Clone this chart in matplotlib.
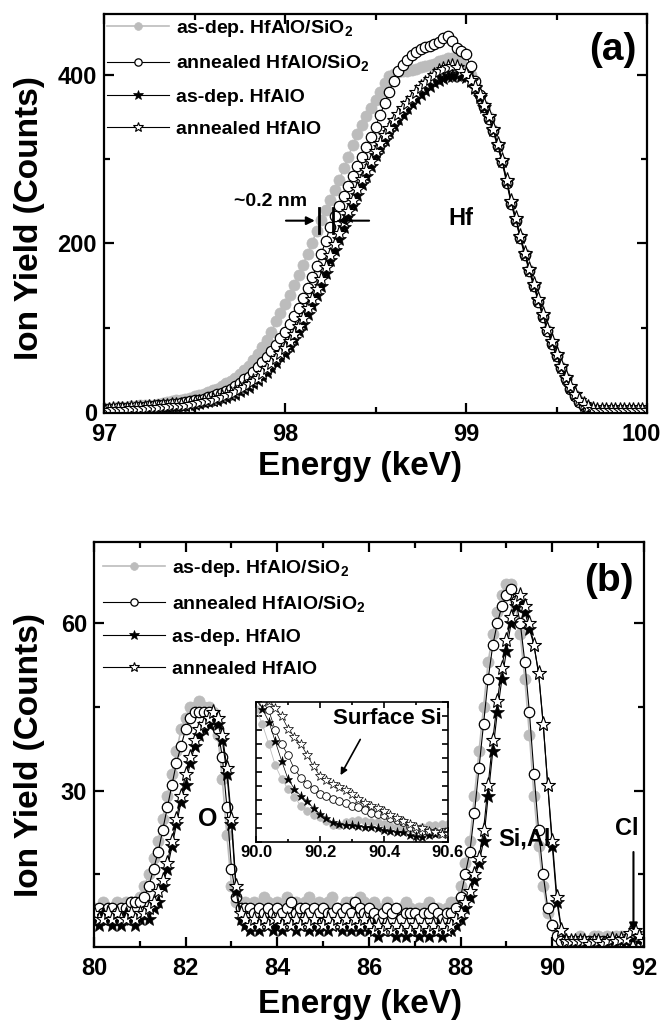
import numpy as np
import matplotlib
matplotlib.use('Agg')
import matplotlib.pyplot as plt
import matplotlib.transforms as mtransforms
from matplotlib.ticker import MultipleLocator, NullFormatter

plt.rcParams['font.family'] = ['Liberation Sans', 'DejaVu Sans']
plt.rcParams['font.weight'] = 'bold'
plt.rcParams['mathtext.fontset'] = 'custom'
plt.rcParams['mathtext.rm'] = 'Liberation Sans:bold'
plt.rcParams['mathtext.bf'] = 'Liberation Sans:bold'
plt.rcParams['mathtext.it'] = 'Liberation Sans:bold'
NARROW = ['Liberation Sans Narrow', 'DejaVu Sans Condensed', 'Liberation Sans', 'DejaVu Sans']

# ---------------- data ----------------
series_labels = ['as-dep. HfAlO/SiO$_2$', 'annealed HfAlO/SiO$_2$',
                 'as-dep. HfAlO', 'annealed HfAlO']

# panel (a): Hf signal, energy grid 97.0 .. 100.0 keV (step 0.025)
energy_a = np.round(97.0 + 0.025 * np.arange(121), 3)
hf_asdep_sio2 = [
    5, 5, 5, 6, 6, 6, 7, 7, 8, 8,
    9, 9, 10, 11, 12, 13, 14, 15, 16, 17,
    19, 20, 22, 24, 26, 28, 31, 34, 37, 41,
    45, 50, 55, 62, 69, 77, 85, 95, 108, 118,
    128, 139, 151, 163, 175, 188, 201, 215, 228, 240,
    251, 263, 275, 289, 303, 317, 330, 341, 351, 361,
    370, 380, 390, 398, 401, 403, 404, 405, 406, 407,
    409, 410, 411, 413, 416, 418, 420, 420, 418, 414,
    408, 400, 389, 376, 363, 350, 334, 316, 297, 273,
    248, 228, 207, 187, 168, 150, 132, 114, 97, 82,
    67, 53, 40, 29, 20, 13, 8, 5, 4, 3,
    3, 2, 2, 2, 2, 2, 2, 2, 2, 2,
    2]
hf_ann_sio2 = [
    4, 4, 4, 5, 5, 5, 5, 6, 6, 6,
    7, 7, 8, 8, 9, 10, 10, 11, 12, 13,
    14, 15, 16, 18, 19, 21, 23, 25, 28, 31,
    35, 39, 42, 48, 53, 59, 65, 72, 80, 88,
    95, 104, 114, 124, 135, 147, 160, 173, 187, 203,
    220, 232, 244, 256, 268, 280, 292, 303, 314, 326,
    338, 352, 366, 380, 393, 404, 412, 418, 423, 427,
    431, 433, 434, 436, 439, 443, 446, 440, 432, 428,
    424, 410, 392, 376, 362, 348, 333, 315, 296, 272,
    247, 227, 206, 186, 167, 149, 131, 113, 96, 81,
    66, 52, 39, 28, 19, 12, 7, 5, 3, 3,
    2, 2, 2, 2, 2, 2, 2, 2, 2, 2,
    2]
hf_asdep = [
    3, 3, 3, 3, 4, 4, 4, 4, 4, 5,
    5, 5, 6, 6, 6, 7, 7, 8, 8, 9,
    10, 11, 12, 13, 14, 15, 17, 18, 20, 22,
    25, 27, 30, 34, 38, 43, 48, 54, 60, 66,
    70, 78, 87, 96, 105, 116, 127, 139, 150, 165,
    180, 192, 205, 219, 232, 245, 258, 270, 280, 292,
    305, 314, 323, 332, 340, 347, 354, 361, 367, 372,
    377, 382, 387, 391, 394, 396, 398, 399, 400, 399,
    397, 392, 384, 374, 362, 350, 335, 317, 298, 274,
    249, 229, 208, 188, 169, 151, 133, 115, 98, 83,
    68, 54, 41, 30, 21, 14, 9, 6, 4, 3,
    3, 2, 2, 2, 2, 2, 2, 2, 1, 1,
    1]
hf_ann = [
    3, 3, 4, 4, 4, 4, 5, 5, 5, 5,
    6, 6, 6, 7, 7, 8, 8, 9, 9, 10,
    11, 12, 13, 14, 15, 17, 18, 20, 22, 24,
    27, 30, 33, 37, 41, 46, 52, 58, 64, 70,
    76, 84, 93, 102, 112, 123, 134, 146, 158, 172,
    186, 199, 212, 225, 238, 251, 264, 276, 287, 298,
    310, 319, 328, 337, 346, 353, 360, 367, 373, 379,
    385, 390, 395, 400, 404, 407, 409, 410, 409, 405,
    401, 394, 386, 376, 364, 351, 336, 318, 299, 275,
    250, 230, 209, 189, 170, 152, 134, 116, 99, 84,
    69, 55, 42, 31, 22, 15, 10, 6, 4, 3,
    3, 2, 2, 2, 2, 2, 2, 2, 2, 2,
    2]

# panel (b): O, Si/Al, Cl signals, energy grid 80.0 .. 92.0 keV (step 0.1)
energy_b = np.round(80.0 + 0.1 * np.arange(121), 2)
b_asdep_sio2 = [
    9, 9, 10, 9, 9, 10, 9, 10, 10, 10,
    11, 13, 15, 18, 21, 25, 29, 33, 37, 41,
    43, 45, 45, 46, 45, 45, 44, 40, 32, 22,
    13, 10, 9, 10, 9, 10, 9, 11, 10, 9,
    10, 9, 11, 9, 10, 9, 10, 11, 9, 10,
    9, 10, 11, 9, 9, 10, 10, 9, 11, 10,
    9, 10, 9, 8, 10, 9, 8, 9, 10, 9,
    8, 9, 9, 10, 8, 9, 8, 9, 10, 10,
    13, 17, 21, 29, 37, 45, 53, 58, 62, 65,
    67, 67, 63, 58, 50, 40, 29, 20, 13, 8,
    6, 5, 4, 3, 3, 3, 4, 3, 3, 4,
    4, 3, 4, 3, 4, 4, 3, 4, 4, 4,
    3]
b_ann_sio2 = [
    8, 9, 8, 9, 9, 8, 9, 9, 10, 10,
    10, 11, 13, 16, 19, 23, 27, 31, 35, 38,
    41, 43, 44, 44, 44, 44, 43, 41, 36, 27,
    16, 11, 9, 9, 9, 8, 9, 8, 9, 8,
    9, 8, 9, 10, 8, 9, 9, 8, 9, 8,
    9, 8, 8, 9, 8, 9, 8, 10, 9, 8,
    9, 8, 7, 8, 9, 8, 9, 7, 8, 8,
    8, 7, 8, 8, 9, 8, 7, 8, 8, 9,
    11, 15, 19, 26, 34, 42, 50, 56, 60, 63,
    65, 66, 64, 60, 53, 44, 33, 23, 15, 9,
    6, 4, 3, 3, 3, 3, 3, 3, 3, 3,
    3, 3, 3, 3, 3, 3, 3, 4, 4, 3,
    3]
b_asdep = [
    7, 6, 8, 7, 6, 7, 6, 8, 7, 6,
    7, 8, 7, 9, 10, 13, 16, 20, 24, 28,
    31, 35, 38, 40, 41, 42, 43, 42, 39, 33,
    24, 12, 7, 6, 5, 6, 5, 7, 6, 5,
    6, 5, 7, 6, 5, 6, 7, 5, 6, 5,
    6, 5, 6, 7, 5, 6, 5, 6, 5, 6,
    5, 6, 4, 5, 6, 5, 4, 5, 4, 5,
    5, 4, 5, 4, 5, 6, 4, 5, 5, 6,
    7, 9, 11, 14, 17, 21, 29, 37, 44, 50,
    55, 60, 63, 64, 62, 59, 56, 51, 42, 31,
    20, 10, 5, 3, 2.5, 2.5, 3, 2.5, 2, 2.5,
    2.5, 2, 2.5, 3, 2.5, 3, 3, 4, 4.5, 3.5,
    2.5]
b_ann = [
    8, 7, 7, 8, 7, 8, 7, 7, 8, 7,
    8, 8, 9, 10, 12, 14, 17, 21, 25, 29,
    33, 36, 39, 41, 42, 43, 44, 43, 40, 34,
    25, 13, 8, 7, 6, 7, 6, 7, 6, 7,
    7, 6, 7, 6, 7, 6, 7, 6, 7, 6,
    6, 7, 6, 7, 6, 7, 6, 7, 6, 7,
    6, 5, 6, 5, 6, 5, 6, 5, 6, 5,
    6, 5, 6, 5, 6, 5, 6, 5, 6, 7,
    8, 10, 12, 15, 18, 23, 31, 39, 46, 52,
    57, 61, 64, 65, 63, 60, 56, 51, 42, 31,
    21, 11, 5, 3, 3, 3, 3, 3, 2.5, 3,
    3, 2.5, 3, 3.5, 3, 3.5, 3.5, 4.5, 5, 4,
    3]

# inset: surface Si region, energy grid 90.00 .. 90.60 keV (step 0.02), arb. units
energy_in = np.round(90.0 + 0.02 * np.arange(31), 2)
in_asdep_sio2 = [95, 84, 70, 55, 45, 38, 32, 26, 22, 19, 18, 15, 12.5, 12, 14, 15,
                 15.5, 15, 14.5, 14, 13, 11.5, 10.5, 10, 9.5, 9.5, 11, 12, 12.5, 13, 13]
in_ann_sio2 = [104, 100, 94, 80, 70, 62, 52, 46, 41.7, 38, 34.5, 33, 31, 29.5, 28, 26,
               25, 23, 21, 20, 19, 17, 15.5, 14, 11, 9, 8, 7.5, 7, 7.5, 8]
in_asdep = [105, 95, 86, 72, 58, 45, 38, 33, 29, 24, 20, 17, 14, 13, 12.5, 12,
            11.5, 11, 10.7, 10, 8.5, 8, 7.5, 7, 5, 4, 3.6, 5, 6, 6.5, 7]
in_ann = [112, 107, 101, 96, 90, 81, 75, 70, 62, 54, 47, 44, 41.7, 39, 37, 34,
          31, 28, 26, 24, 22, 19, 17, 15, 13, 11, 10, 8, 7, 6, 6]

panel_a = [hf_asdep_sio2, hf_ann_sio2, hf_asdep, hf_ann]
panel_b = [b_asdep_sio2, b_ann_sio2, b_asdep, b_ann]
panel_in = [in_asdep_sio2, in_ann_sio2, in_asdep, in_ann]

# ---------------- styles ----------------
GRAY = '#bcbcbc'
styles = [
    dict(color=GRAY, marker='o', ms=8, mfc=GRAY, mec=GRAY, mew=0.5, lw=1.2),
    dict(color='black', marker='o', ms=7.5, mfc='white', mec='black', mew=0.9, lw=0.8),
    dict(color='black', marker='*', ms=10, mfc='black', mec='black', mew=0.5, lw=0.8),
    dict(color='black', marker='*', ms=11, mfc='white', mec='black', mew=0.8, lw=0.8),
]
inset_styles = [
    dict(color=GRAY, marker='o', ms=5.5, mfc=GRAY, mec=GRAY, mew=0.5, lw=0.6),
    dict(color='black', marker='o', ms=5.5, mfc='white', mec='black', mew=0.6, lw=0.5),
    dict(color='black', marker='*', ms=6.5, mfc='black', mec='black', mew=0.4, lw=0.5),
    dict(color='black', marker='*', ms=7, mfc='white', mec='black', mew=0.5, lw=0.5),
]

W, H = 664, 1029
fig = plt.figure(figsize=(W / 100, H / 100), dpi=100)

def px_axes(x0, y0, x1, y1):
    return [x0 / W, 1 - y1 / H, (x1 - x0) / W, (y1 - y0) / H]

def style_axes(ax, lab_size=17, major_len=7, minor_len=4, lw=1.6):
    for s in ax.spines.values():
        s.set_linewidth(lw)
    ax.tick_params(which='both', direction='in', top=True, right=True, width=lw)
    ax.tick_params(which='major', length=major_len, pad=5)
    ax.tick_params(which='minor', length=minor_len)
    for t in ax.get_xticklabels() + ax.get_yticklabels():
        t.set_family(NARROW)
        t.set_fontsize(lab_size)
        t.set_fontweight('bold')

legend_kw = dict(frameon=False, handlelength=3.2, handletextpad=0.35, labelspacing=0.75,
                 borderaxespad=0.1, borderpad=0.2, markerscale=0.7,
                 prop=dict(family=['Liberation Sans'], weight='bold', size=14))

# ---------------- panel (a) ----------------
axa = fig.add_axes(px_axes(104, 14, 647, 413))
for vals, st, lab in zip(panel_a, styles, series_labels):
    axa.plot(energy_a, vals, label=lab, **st)
axa.set_xlim(97, 100)
axa.set_ylim(-1, 472)
axa.xaxis.set_major_locator(MultipleLocator(1))
axa.xaxis.set_minor_locator(MultipleLocator(0.5))
axa.yaxis.set_major_locator(MultipleLocator(200))
axa.yaxis.set_minor_locator(MultipleLocator(100))
axa.set_xticks([97, 98, 99, 100])
axa.set_xticklabels(['97', '98', '99', '100'])
style_axes(axa)
axa.tick_params(axis='x', pad=7)
# nudge the last x label ("100") slightly left so it stays inside the figure
lab100 = axa.get_xticklabels()[-1]
lab100.set_transform(lab100.get_transform() +
                     mtransforms.ScaledTranslation(-6 / 100, 0, fig.dpi_scale_trans))
# nudge the "0" y label up a little, as in the reference
lab0 = axa.get_yticklabels()[0]
lab0.set_transform(lab0.get_transform() +
                   mtransforms.ScaledTranslation(0, 3 / 100, fig.dpi_scale_trans))

axa.legend(loc='upper left', bbox_to_anchor=(-0.005, 1.005), **legend_kw)

axa.text(0.937, 0.91, '(a)', transform=axa.transAxes, ha='center', va='center',
         fontsize=28, fontweight='bold')
axa.text(97.92, 250, '~0.2 nm', ha='center', va='center', fontsize=14, fontweight='bold')
axa.annotate('', xy=(98.18, 227), xytext=(97.99, 227),
             arrowprops=dict(arrowstyle='-|>', color='black', lw=1.5, mutation_scale=12))
axa.annotate('', xy=(98.275, 227), xytext=(98.48, 227),
             arrowprops=dict(arrowstyle='-|>', color='black', lw=1.5, mutation_scale=12))
axa.plot([98.19, 98.19], [212, 242], color='black', lw=2)
axa.plot([98.265, 98.265], [212, 242], color='black', lw=2)
axa.text(98.97, 230, 'Hf', ha='center', va='center', fontsize=17, fontweight='bold')

fig.text(30 / W, 1 - 218 / H, 'Ion Yield (Counts)', rotation=90, ha='center', va='center',
         fontsize=24, fontweight='bold')
fig.text(360 / W, 1 - 466 / H, 'Energy (keV)', ha='center', va='center',
         fontsize=24, fontweight='bold')

# ---------------- panel (b) ----------------
axb = fig.add_axes(px_axes(94, 542, 644, 947))
for vals, st, lab in zip(panel_b, styles, series_labels):
    axb.plot(energy_b, vals, label=lab, **st)
axb.set_xlim(80, 92)
axb.set_ylim(2, 74.5)
axb.xaxis.set_major_locator(MultipleLocator(2))
axb.xaxis.set_minor_locator(MultipleLocator(1))
axb.yaxis.set_major_locator(MultipleLocator(30))
axb.yaxis.set_minor_locator(MultipleLocator(15))
style_axes(axb)
axb.tick_params(axis='x', pad=7)

axb.legend(loc='upper left', bbox_to_anchor=(0.005, 0.975), **legend_kw)

axb.text(0.936, 0.904, '(b)', transform=axb.transAxes, ha='center', va='center',
         fontsize=28, fontweight='bold')
axb.text(82.47, 25, 'O', ha='center', va='center', fontsize=18, fontweight='bold')
axb.text(89.39, 21.4, 'Si,Al', ha='center', va='center', fontsize=17, fontweight='bold')
axb.text(91.62, 23.2, 'Cl', ha='center', va='center', fontsize=17, fontweight='bold')
axb.annotate('', xy=(91.77, 4.3), xytext=(91.77, 19.5),
             arrowprops=dict(arrowstyle='-|>', color='black', lw=1.5, mutation_scale=12))

fig.text(30 / W, 1 - 755 / H, 'Ion Yield (Counts)', rotation=90, ha='center', va='center',
         fontsize=24, fontweight='bold')
fig.text(360 / W, 1 - 1004 / H, 'Energy (keV)', ha='center', va='center',
         fontsize=24, fontweight='bold')

# ---------------- inset ----------------
axi = fig.add_axes(px_axes(256, 702, 448, 842))
axi.set_facecolor('white')
for vals, st in zip(panel_in, inset_styles):
    axi.plot(energy_in, vals, **st)
axi.set_xlim(90.0, 90.6)
axi.set_ylim(0, 100)
axi.xaxis.set_major_locator(MultipleLocator(0.2))
axi.xaxis.set_minor_locator(MultipleLocator(0.1))
axi.yaxis.set_major_locator(MultipleLocator(10))
axi.yaxis.set_major_formatter(NullFormatter())
axi.set_xticks([90.0, 90.2, 90.4, 90.6])
axi.set_xticklabels(['90.0', '90.2', '90.4', '90.6'])
style_axes(axi, lab_size=12, major_len=4, minor_len=2, lw=1.2)
axi.tick_params(which='major', pad=2)
axi.text(90.41, 88, 'Surface Si', ha='center', va='center', fontsize=16, fontweight='bold')
axi.annotate('', xy=(90.26, 46), xytext=(90.33, 75),
             arrowprops=dict(arrowstyle='-|>', color='black', lw=1.2, mutation_scale=10))

fig.savefig('out.png', dpi=100)
